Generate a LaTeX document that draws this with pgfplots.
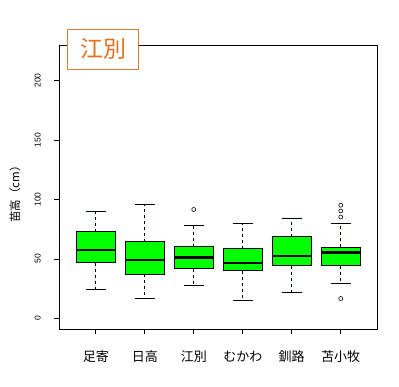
\documentclass[border=0pt]{standalone}
\usepackage{pgfplots}
\pgfplotsset{compat=1.18}
\usepgfplotslibrary{statistics}
\usepackage{fontspec}
\setmainfont{Liberation Sans}
\newfontfamily\cjk{Noto Sans CJK JP}
\definecolor{boxgreen}{RGB}{0,255,0}
\definecolor{titleorange}{RGB}{226,112,30}
\definecolor{titleborder}{RGB}{205,130,60}
\pgfplotsset{
  rbox/.style={draw=black, fill=boxgreen, line width=0.8pt, solid,
    mark=o, mark size=2pt, mark options={solid, fill=none, line width=0.6pt}},
}
\begin{document}
\begin{tikzpicture}
\begin{axis}[
  name=ax,
  width=317.5pt, height=284pt, scale only axis,
  xmin=0.26, xmax=6.74, ymin=-8.84, ymax=229.84,
  axis line style={line width=0.8pt},
  xtick={1,2,3,4,5,6},
  xticklabels={足寄,日高,江別,むかわ,釧路,苫小牧},
  xticklabel style={font=\cjk\fontsize{13}{13}\selectfont, anchor=center, yshift=-22.7pt},
  ytick={0,50,100,150,200},
  yticklabel style={font=\fontsize{8.5}{9}\selectfont, xshift=-16.8pt, rotate=90, anchor=center},
  /pgf/number format/assume math mode=true,
  tick align=outside,
  major tick length=5pt,
  tick style={black, line width=0.8pt},
  tick pos=left,
  ylabel={苗高（cm）},
  every axis y label/.style={at={(axis description cs:-0.1402,0.484)}, rotate=90, anchor=center,
    font=\cjk\fontsize{11.5}{12}\selectfont},
  boxplot/draw direction=y,
  boxplot/box extend=0.8,
  boxplot/whisker extend=0.4,
  boxplot/every median/.style={line width=2.6pt},
  boxplot/draw/lower whisker/.code={
    \draw[dash pattern=on 3pt off 3pt]
      (boxplot box cs:\pgfplotsboxplotvalue{lower quartile},0.5) --
      (boxplot box cs:\pgfplotsboxplotvalue{lower whisker},0.5);
    \draw[solid] (boxplot whisker cs:\pgfplotsboxplotvalue{lower whisker},0) --
      (boxplot whisker cs:\pgfplotsboxplotvalue{lower whisker},1);
  },
  boxplot/draw/upper whisker/.code={
    \draw[dash pattern=on 3pt off 3pt]
      (boxplot box cs:\pgfplotsboxplotvalue{upper quartile},0.5) --
      (boxplot box cs:\pgfplotsboxplotvalue{upper whisker},0.5);
    \draw[solid] (boxplot whisker cs:\pgfplotsboxplotvalue{upper whisker},0) --
      (boxplot whisker cs:\pgfplotsboxplotvalue{upper whisker},1);
  },
]
% 足寄
\addplot[rbox, boxplot prepared={draw position=1, lower whisker=24.4, lower quartile=47,
  median=57.4, upper quartile=72.8, upper whisker=89.6}] coordinates {};
% 日高
\addplot[rbox, boxplot prepared={draw position=2, lower whisker=16.8, lower quartile=37,
  median=49, upper quartile=64.4, upper whisker=95.8}] coordinates {};
% 江別
\addplot[rbox, boxplot prepared={draw position=3, lower whisker=27.7, lower quartile=42,
  median=51, upper quartile=60.2, upper whisker=78.2}]
  table[row sep=\\, y index=0] {data\\ 91.6\\};
% むかわ
\addplot[rbox, boxplot prepared={draw position=4, lower whisker=15.1, lower quartile=40.3,
  median=46.7, upper quartile=58.5, upper whisker=79.8}] coordinates {};
% 釧路
\addplot[rbox, boxplot prepared={draw position=5, lower whisker=21.8, lower quartile=44.5,
  median=52.6, upper quartile=68.6, upper whisker=84.5}] coordinates {};
% 苫小牧
\addplot[rbox, boxplot prepared={draw position=6, lower whisker=29.4, lower quartile=44.2,
  median=55.5, upper quartile=59.7, upper whisker=79.8}]
  table[row sep=\\, y index=0] {data\\ 95.2\\ 90.4\\ 85.3\\ 16.8\\};
\end{axis}
\node[draw=titleborder, fill=white, text=titleorange, line width=0.8pt,
  font=\cjk\fontsize{23}{23}\selectfont, minimum width=71.4pt, minimum height=40pt, inner sep=0pt]
  at ([xshift=43.5pt, yshift=-4.3pt]ax.north west) {江別};
\path[use as bounding box] ([xshift=-59.5pt, yshift=-57pt]ax.south west) rectangle ++(399pt,386pt);
\end{tikzpicture}
\end{document}
